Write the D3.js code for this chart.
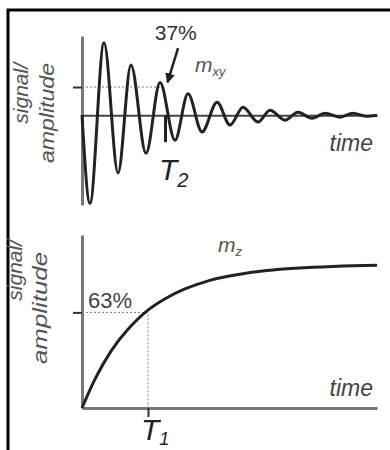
<!DOCTYPE html>
<html>
<head>
<meta charset="utf-8">
<script src="https://cdn.jsdelivr.net/npm/d3@7"></script>
<style>
  body { margin: 0; background: #fff; }
  svg { display: block; font-family: "Liberation Sans", Arial, sans-serif; }
</style>
</head>
<body>
<div id="chart"></div>
<script>
// Transverse decay m_xy: extrema (time in units of T2)
const decayTime = [0, 0.096, 0.265, 0.434, 0.590, 0.771, 0.940, 1.120, 1.277, 1.446, 1.627,
                   1.783, 1.940, 2.120, 2.265, 2.446, 2.602, 2.771, 2.928, 3.108, 3.265, 3.420, 3.554];
const decaySignal = [0, -1.16, 0.95, -0.76, 0.66, -0.50, 0.43, -0.33, 0.28, -0.22, 0.17,
                     -0.13, 0.105, -0.09, 0.066, -0.066, 0.04, -0.04, 0.026, -0.026, 0.026, -0.013, 0];

// Longitudinal recovery m_z (time in units of T1)
const recoveryTime = [0, 0.197, 0.44, 0.70, 0.985, 1.26, 1.56, 1.95, 2.21, 2.80, 3.80, 4.47];
const recoverySignal = [0, 0.19, 0.375, 0.52, 0.64, 0.72, 0.785, 0.843, 0.868, 0.906, 0.932, 0.94];

const t2Level = 0.37, t1Level = 0.63;
const t2Peak = 0.940;   // peak that sits on the 37% line

const width = 390, height = 450;

const svg = d3.select("#chart").append("svg")
    .attr("width", width)
    .attr("height", height);

// arrow head
svg.append("defs").append("marker")
    .attr("id", "head")
    .attr("viewBox", "0 0 10 10")
    .attr("refX", 9).attr("refY", 5)
    .attr("markerWidth", 4).attr("markerHeight", 4)
    .attr("orient", "auto")
  .append("path")
    .attr("d", "M0,0L10,5L0,10z")
    .attr("fill", "#222");

// frame (left and top)
svg.append("path")
    .attr("d", "M8,450V10H390")
    .attr("fill", "none")
    .attr("stroke", "#000")
    .attr("stroke-width", 3);

// ---------- top panel ----------
const xT = d3.scaleLinear().domain([0, 3.554]).range([82, 377]);
const yT = d3.scaleLinear().domain([-1.18, 1.04]).range([205, 36]);

const topPanel = svg.append("g");

topPanel.append("line")
    .attr("x1", xT(0)).attr("x2", xT(t2Peak))
    .attr("y1", yT(t2Level)).attr("y2", yT(t2Level))
    .attr("stroke", "#777").attr("stroke-width", 1)
    .attr("stroke-dasharray", "2,2");

const yAxisT = topPanel.append("g")
    .attr("transform", `translate(${xT(0)},0)`)
    .call(d3.axisLeft(yT).tickValues([t2Level]).tickSize(9).tickSizeOuter(0).tickFormat(""));

const xAxisT = topPanel.append("g")
    .attr("transform", `translate(0,${yT(0)})`)
    .call(d3.axisBottom(xT).tickValues([1]).tickSize(27).tickSizeOuter(0).tickFormat(""));

yAxisT.select(".domain").attr("stroke", "#777").attr("stroke-width", 3);
yAxisT.selectAll(".tick line").attr("stroke", "#333").attr("stroke-width", 2);
xAxisT.select(".domain").attr("stroke", "#444").attr("stroke-width", 2);
xAxisT.selectAll(".tick line").attr("stroke", "#222").attr("stroke-width", 3);

const waveLine = d3.line()
    .x((d, i) => xT(decayTime[i]))
    .y(d => yT(d))
    .curve(d3.curveMonotoneX);

topPanel.append("path")
    .attr("d", waveLine(decaySignal))
    .attr("fill", "none")
    .attr("stroke", "#222")
    .attr("stroke-width", 3);

// arrow pointing at the 37% peak
topPanel.append("line")
    .attr("x1", xT(1.157)).attr("y1", yT(0.88))
    .attr("x2", xT(1.03)).attr("y2", yT(0.43))
    .attr("stroke", "#222").attr("stroke-width", 2.5)
    .attr("marker-end", "url(#head)");

topPanel.append("text")
    .attr("x", xT(1.13)).attr("y", yT(0.99))
    .attr("text-anchor", "middle")
    .attr("font-size", 21)
    .attr("fill", "#333")
    .text("37%");

const mxy = topPanel.append("text")
    .attr("x", 195).attr("y", 72)
    .attr("font-size", 21).attr("font-style", "italic").attr("fill", "#555");
mxy.append("tspan").text("m");
mxy.append("tspan").attr("font-size", 13).attr("dy", 4).text("xy");

topPanel.append("text")
    .attr("x", 373).attr("y", 151)
    .attr("text-anchor", "end")
    .attr("font-size", 23).attr("font-style", "italic").attr("fill", "#444")
    .text("time");

const t2 = topPanel.append("text")
    .attr("x", 159).attr("y", 180)
    .attr("font-size", 30).attr("font-style", "italic").attr("fill", "#222");
t2.append("tspan").text("T");
t2.append("tspan").attr("font-size", 20).attr("dx", 0).attr("dy", 7).text("2");

const labT = topPanel.append("g")
    .attr("fill", "#555").attr("font-size", 21).attr("font-style", "italic");
labT.append("text")
    .attr("transform", "translate(28,63) rotate(-90)")
    .attr("text-anchor", "end")
    .text("signal/");
labT.append("text")
    .attr("transform", "translate(54,63) rotate(-90)")
    .attr("text-anchor", "end")
    .attr("textLength", 100).attr("lengthAdjust", "spacingAndGlyphs")
    .text("amplitude");

// ---------- bottom panel ----------
const xB = d3.scaleLinear().domain([0, 4.47]).range([82, 377]);
const yB = d3.scaleLinear().domain([0, 1.14]).range([408, 235]);

const botPanel = svg.append("g");

botPanel.append("path")
    .attr("d", `M${xB(0)},${yB(t1Level)}H${xB(1)}V${yB(0)}`)
    .attr("fill", "none")
    .attr("stroke", "#777").attr("stroke-width", 1)
    .attr("stroke-dasharray", "2,2");

const yAxisB = botPanel.append("g")
    .attr("transform", `translate(${xB(0)},0)`)
    .call(d3.axisLeft(yB).tickValues([t1Level]).tickSize(9).tickSizeOuter(0).tickFormat(""));

const xAxisB = botPanel.append("g")
    .attr("transform", `translate(0,${yB(0)})`)
    .call(d3.axisBottom(xB).tickValues([1]).tickSize(9).tickSizeOuter(0).tickFormat(""));

[yAxisB, xAxisB].forEach(a => {
  a.select(".domain").attr("stroke", "#777").attr("stroke-width", 3);
  a.selectAll(".tick line").attr("stroke", "#333").attr("stroke-width", 2);
});

const riseLine = d3.line()
    .x((d, i) => xB(recoveryTime[i]))
    .y(d => yB(d))
    .curve(d3.curveNatural);

botPanel.append("path")
    .attr("d", riseLine(recoverySignal))
    .attr("fill", "none")
    .attr("stroke", "#222")
    .attr("stroke-width", 3);

botPanel.append("text")
    .attr("x", 88).attr("y", 308)
    .attr("font-size", 22).attr("fill", "#444")
    .text("63%");

const mz = botPanel.append("text")
    .attr("x", 218).attr("y", 252)
    .attr("font-size", 21).attr("font-style", "italic").attr("fill", "#555");
mz.append("tspan").text("m");
mz.append("tspan").attr("font-size", 13).attr("dy", 4).text("z");

botPanel.append("text")
    .attr("x", 373).attr("y", 396)
    .attr("text-anchor", "end")
    .attr("font-size", 23).attr("font-style", "italic").attr("fill", "#444")
    .text("time");

const t1 = botPanel.append("text")
    .attr("x", 141).attr("y", 440)
    .attr("font-size", 30).attr("font-style", "italic").attr("fill", "#222");
t1.append("tspan").text("T");
t1.append("tspan").attr("font-size", 18).attr("dx", 0).attr("dy", 5).text("1");

const labB = botPanel.append("g")
    .attr("fill", "#555").attr("font-size", 21).attr("font-style", "italic");
labB.append("text")
    .attr("transform", "translate(22,240) rotate(-90)")
    .attr("text-anchor", "end")
    .text("signal/");
labB.append("text")
    .attr("transform", "translate(47,252) rotate(-90)")
    .attr("text-anchor", "end")
    .attr("textLength", 112).attr("lengthAdjust", "spacingAndGlyphs")
    .text("amplitude");
</script>
</body>
</html>
